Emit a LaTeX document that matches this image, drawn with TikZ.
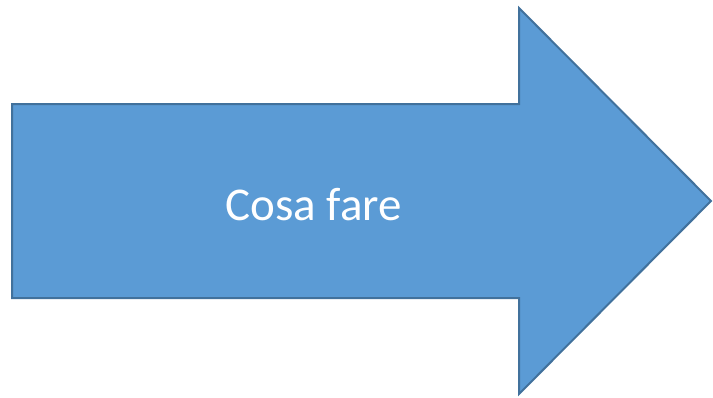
\documentclass[tikz,border=0pt]{standalone}
\usepackage{fontspec}
\setmainfont{Carlito}
\definecolor{arrowfill}{HTML}{5B9BD5}
\definecolor{arrowline}{HTML}{41719C}
\begin{document}
\begin{tikzpicture}[x=1pt,y=-1pt,
  bigarrow/.style={fill=arrowfill,draw=arrowline,line width=2pt,line join=miter},
  label/.style={text=white,font=\fontsize{47}{56}\selectfont,inner sep=0pt}]
\useasboundingbox (0,0) rectangle (713,397);
\draw[bigarrow] (12,104) -- (519,104) -- (519,8) -- (711,201) -- (519,394) -- (519,298) -- (12,298) -- cycle;
\node[label,anchor=base] (t) at (313.5,220) {Cosa fare};
\end{tikzpicture}
\end{document}
